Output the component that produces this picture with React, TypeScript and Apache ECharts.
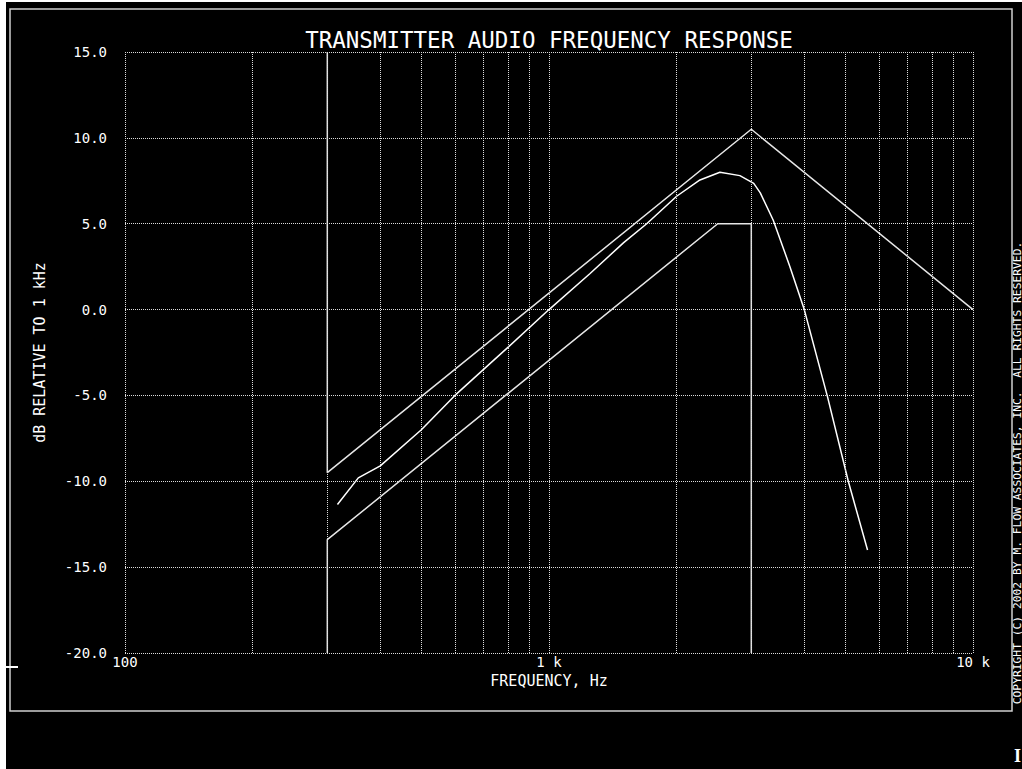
import React, { useEffect, useRef } from "react";
import * as echarts from "echarts";

// ---- data ----
const yTicks = [-20, -15, -10, -5, 0, 5, 10, 15];
const xTickLabels: Record<number, string> = { 100: "100", 1000: "1 k", 10000: "10 k" };
const minorFreqs = [200, 300, 400, 500, 600, 700, 800, 900, 2000, 3000, 4000, 5000, 6000, 7000, 8000, 9000];

const upperFreq = [300, 300, 3000, 10000];
const upperDb = [15, -9.5, 10.5, 0];

const lowerFreq = [300, 300, 2500, 3000, 3000];
const lowerDb = [-20, -13.4, 5, 5, -20];

const respFreq = [317, 355, 400, 500, 600, 700, 800, 1000, 1250, 1500, 1700, 2000, 2270, 2530, 2820, 3040, 3150, 3380, 3700, 4000, 4540, 5080, 5640];
const respDb = [-11.35, -9.8, -9.1, -7.0, -5.0, -3.5, -2.2, 0, 2.1, 3.9, 5.0, 6.6, 7.55, 8.0, 7.8, 7.35, 6.8, 5.2, 2.5, 0, -5.1, -10.0, -14.0];

const titleText = "TRANSMITTER AUDIO FREQUENCY RESPONSE";
const xName = "FREQUENCY, Hz";
const yName = "dB RELATIVE TO 1 kHz";
const copyright = "COPYRIGHT (C) 2002 BY M. FLOW ASSOCIATES, INC.  ALL RIGHTS RESERVED.";

const MONO = "DejaVu Sans Mono";
const GRID_COLOR = "#dcdcdc";
const dotted = { color: GRID_COLOR, width: 1, type: [1, 1] as number[] };

const zip = (a: number[], b: number[]) => a.map((v, i) => [v, b[i]]);

export default function App() {
  const ref = useRef<HTMLDivElement>(null);

  useEffect(() => {
    document.body.style.margin = "0";
    document.body.style.overflow = "hidden";
    if (!ref.current) return;
    const chart = echarts.init(ref.current, undefined, { renderer: "svg" });
    chart.setOption({
      animation: false,
      backgroundColor: "#000",
      grid: { left: 119, top: 50, right: 49, bottom: 116, containLabel: false },
      xAxis: {
        type: "log",
        logBase: 10,
        min: 100,
        max: 10000,
        name: xName,
        nameLocation: "middle",
        nameGap: 13,
        nameTextStyle: { color: "#fff", fontFamily: MONO, fontSize: 15 },
        axisLine: { show: false },
        axisTick: { show: false },
        axisLabel: {
          color: "#fff",
          fontFamily: MONO,
          fontSize: 14,
          margin: 2,
          formatter: (v: number) => xTickLabels[Math.round(v)] ?? "",
        },
        splitLine: { show: true, lineStyle: dotted },
      },
      yAxis: {
        type: "value",
        min: -20,
        max: 15,
        interval: 5,
        name: yName,
        nameLocation: "middle",
        nameRotate: 90,
        nameGap: 78,
        nameTextStyle: { color: "#fff", fontFamily: MONO, fontSize: 15 },
        axisLine: { show: false },
        axisTick: { show: false },
        axisLabel: {
          color: "#fff",
          fontFamily: MONO,
          fontSize: 14,
          margin: 18,
          formatter: (v: number) => (yTicks.includes(v) ? v.toFixed(1) : ""),
        },
        splitLine: { show: true, lineStyle: dotted },
      },
      series: [
        {
          type: "line",
          name: "grid",
          data: [],
          silent: true,
          markLine: {
            silent: true,
            symbol: "none",
            label: { show: false },
            lineStyle: dotted,
            data: minorFreqs.map((f) => ({ xAxis: f })),
          },
        },
        {
          type: "line",
          name: "upper",
          data: zip(upperFreq, upperDb),
          symbol: "none",
          lineStyle: { color: "#e6e6e6", width: 1.5 },
          silent: true,
        },
        {
          type: "line",
          name: "lower",
          data: zip(lowerFreq, lowerDb),
          symbol: "none",
          lineStyle: { color: "#e6e6e6", width: 1.5 },
          silent: true,
        },
        {
          type: "line",
          name: "response",
          data: zip(respFreq, respDb),
          symbol: "none",
          lineStyle: { color: "#ffffff", width: 1.5 },
          silent: true,
        },
      ],
      graphic: [
        {
          type: "rect",
          shape: { x: 4, y: 7, width: 1002, height: 702 },
          style: { fill: "none", stroke: "#cfcfcf", lineWidth: 1.5 },
          silent: true,
        },
        {
          type: "text",
          x: 543,
          y: 38,
          style: {
            text: titleText,
            fill: "#fff",
            font: `22.5px "${MONO}"`,
            textAlign: "center",
            textVerticalAlign: "middle",
          },
        },
        {
          type: "text",
          x: 1011,
          y: 471,
          rotation: Math.PI / 2,
          style: {
            text: copyright,
            fill: "#fff",
            font: `11.3px "${MONO}"`,
            textAlign: "center",
            textVerticalAlign: "middle",
          },
        },
        {
          type: "line",
          shape: { x1: 0, y1: 665, x2: 12, y2: 665 },
          style: { stroke: "#fff", lineWidth: 2 },
        },
        {
          type: "text",
          x: 1008,
          y: 745,
          style: {
            text: "I",
            fill: "#fff",
            font: `bold 18px "Liberation Serif"`,
            textAlign: "left",
            textVerticalAlign: "top",
          },
        },
      ],
    });
    return () => chart.dispose();
  }, []);

  return (
    <div style={{ position: "relative", width: 1022, height: 769, background: "#fff", overflow: "hidden" }}>
      <div
        ref={ref}
        style={{ position: "absolute", left: 6, top: 2, width: 1016, height: 767 }}
      />
    </div>
  );
}
